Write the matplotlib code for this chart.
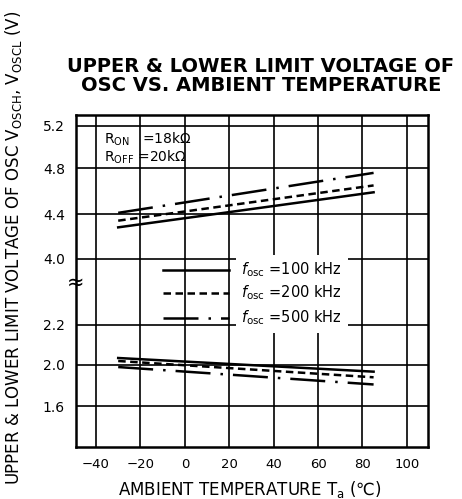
import numpy as np
import matplotlib
matplotlib.use("Agg")
import matplotlib.pyplot as plt

# data (Ta in degC, voltages in V)
temp = [-30, 85]
vosch_100 = [4.28, 4.59]
vosch_200 = [4.34, 4.65]
vosch_500 = [4.41, 4.76]
voscl_100 = [2.035, 1.935]
voscl_200 = [2.02, 1.88]
voscl_500 = [1.98, 1.81]

xticks = [-40, -20, 0, 20, 40, 60, 80, 100]
yticks = [1.6, 2.0, 2.2, 4.0, 4.4, 4.8, 5.2]
ytick_labels = ["1.6", "2.0", "2.2", "4.0", "4.4", "4.8", "5.2"]

# broken y axis: piecewise scale (volts -> drawing units)
v_anchor = np.array([1.2, 1.6, 2.0, 2.2, 4.0, 4.4, 4.8, 5.2, 5.3])
p_anchor = np.array([0, 41, 82, 122, 188.5, 233, 278.7, 321.3, 332])

def fwd(v):
    return np.interp(v, v_anchor, p_anchor)

def inv(p):
    return np.interp(p, p_anchor, v_anchor)

styles = {
    "100": dict(color="black", lw=1.8, linestyle="-"),
    "200": dict(color="black", lw=1.8, linestyle=(0, (3, 1.8))),
    "500": dict(color="black", lw=1.8, linestyle=(0, (14, 4, 1, 4))),
}

fig = plt.figure(figsize=(4.62, 4.99), dpi=100)
ax = fig.add_axes([76/462, 52/499, 352/462, 332/499])
ax.set_yscale("function", functions=(fwd, inv))

ax.plot(temp, vosch_100, **styles["100"])
ax.plot(temp, vosch_200, **styles["200"])
ax.plot(temp, vosch_500, **styles["500"])
ax.plot(temp, voscl_100, **styles["100"])
ax.plot(temp, voscl_200, **styles["200"])
ax.plot(temp, voscl_500, **styles["500"])

ax.set_xlim(-49, 109.5)
ax.set_ylim(1.2, 5.3)
ax.set_xticks(xticks)
ax.set_xticklabels([str(t) if t >= 0 else "\u2212" + str(-t) for t in xticks])
ax.set_yticks(yticks)
ax.set_yticklabels(ytick_labels)
ax.minorticks_off()
ax.tick_params(length=0, labelsize=9.5)
ax.tick_params(axis="y", pad=8, labelsize=10)
ax.tick_params(axis="x", pad=8)
ax.grid(True, color="black", lw=1.2)
ax.set_axisbelow(True)
for s in ax.spines.values():
    s.set_linewidth(1.8)

# break mark on the left spine
ax.text(0, 0.494, "\u2248", transform=ax.transAxes, ha="center", va="center",
        fontsize=15)

# resistor values
ax.text(-36.5, 5.07, r"R$_{\rm ON}$   =18k$\Omega$", fontsize=10, va="center")
ax.text(-36.5, 4.90, r"R$_{\rm OFF}$ =20k$\Omega$", fontsize=10, va="center")

# legend drawn by hand like the original
leg_y = [0.533, 0.464, 0.389]
leg_lbl = ["100", "200", "500"]
for yy, k in zip(leg_y, leg_lbl):
    ax.plot([0.246, 0.435], [yy, yy], transform=ax.transAxes, **styles[k])
    ax.text(0.47, yy, r"$f_{\rm osc}$ =" + k + " kHz", transform=ax.transAxes,
            fontsize=10.5, va="center",
            bbox=dict(facecolor="white", edgecolor="none", pad=4))

fig.text(261/462, 1 - 76/499,
         "UPPER & LOWER LIMIT VOLTAGE OF\nOSC VS. AMBIENT TEMPERATURE",
         ha="center", va="center", fontsize=14, fontweight="bold",
         linespacing=1.0)
fig.text(14/462, 0.504,
         r"UPPER & LOWER LIMIT VOLTAGE OF OSC V$_{\rm OSCH}$, V$_{\rm OSCL}$ (V)",
         rotation=90, ha="center", va="center", fontsize=12)
fig.text(250/462, 9/499, "AMBIENT TEMPERATURE T$_{\\rm a}$ (\u2103)",
         ha="center", va="center", fontsize=12)

plt.savefig("out.png", dpi=100)
